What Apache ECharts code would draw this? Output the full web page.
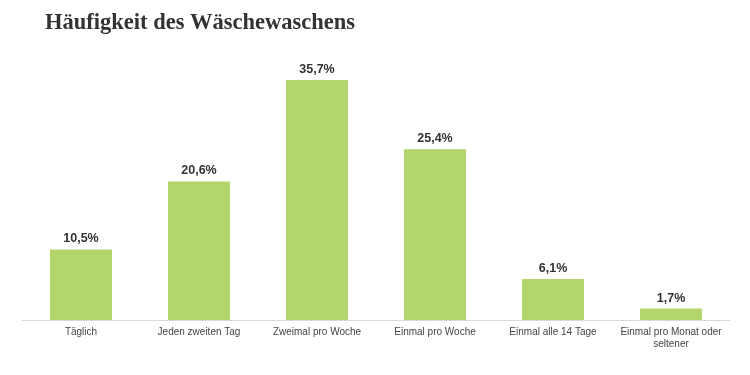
<!DOCTYPE html>
<html><head><meta charset="utf-8">
<script src="https://cdn.jsdelivr.net/npm/echarts@6/dist/echarts.min.js"></script>
<style>html,body{margin:0;padding:0;background:#fff}#c{width:750px;height:375px}</style>
</head><body><div id="c"></div>
<script>
const categories = ["Täglich","Jeden zweiten Tag","Zweimal pro Woche","Einmal pro Woche","Einmal alle 14 Tage","Einmal pro Monat oder\nseltener"];
const values = [10.5, 20.6, 35.7, 25.4, 6.1, 1.7];
const titleText = "Häufigkeit des Wäschewaschens";

const chart = echarts.init(document.getElementById('c'), null, {renderer:'canvas'});
chart.setOption({
  animation:false,
  backgroundColor:'#fff',
  title:{text:titleText,left:40,top:7,textStyle:{fontFamily:'Liberation Serif',fontWeight:'bold',fontSize:22.5,color:'#333'}},
  grid:{left:22,right:20,top:51,bottom:55,containLabel:false},
  xAxis:{type:'category',data:categories,
    axisLine:{show:true,lineStyle:{color:'#d9d9d9',width:1}},
    axisTick:{show:false},
    axisLabel:{interval:0,color:'#444',fontFamily:'Liberation Sans',fontSize:10,margin:6,lineHeight:12}},
  yAxis:{type:'value',min:0,max:40,show:false,splitLine:{show:false}},
  series:[{type:'bar',data:values,barWidth:62,itemStyle:{color:'#b4d56c'},
    label:{show:true,position:'top',distance:4,color:'#333',fontFamily:'Liberation Sans',fontWeight:'bold',fontSize:12.5,
      formatter:p=>String(p.value).replace('.',',')+'%'}}]
});
</script></body></html>
